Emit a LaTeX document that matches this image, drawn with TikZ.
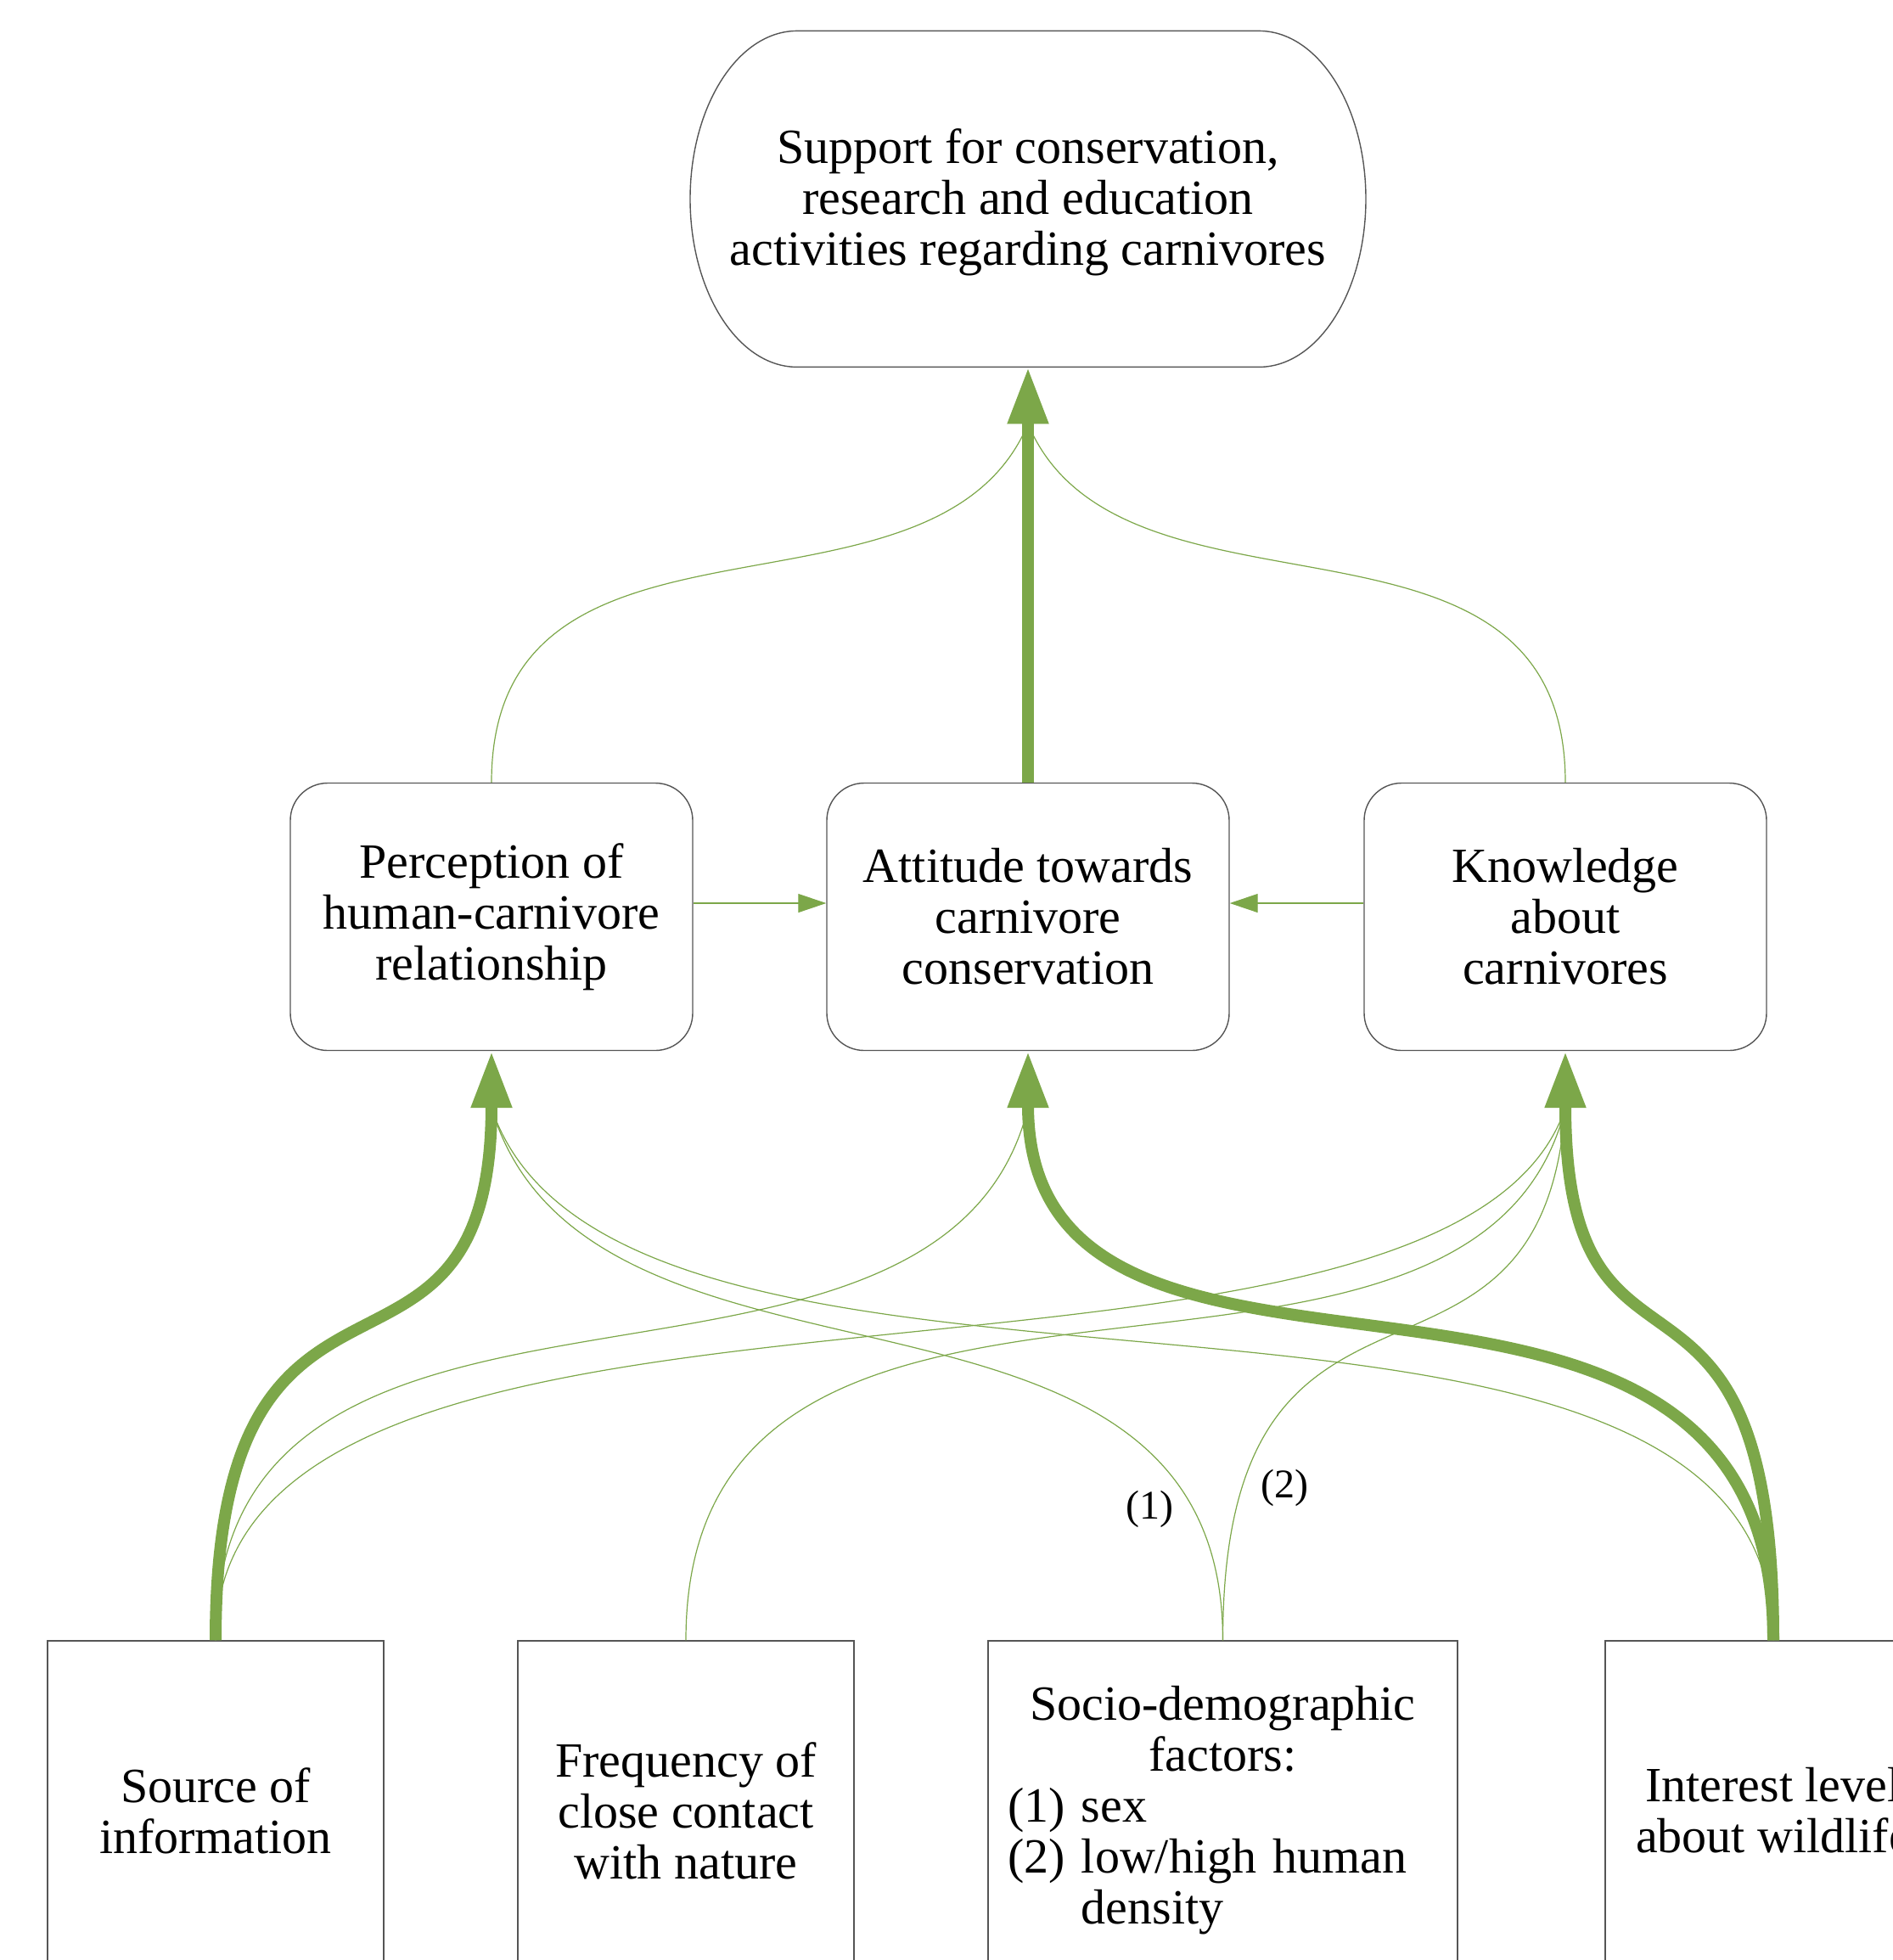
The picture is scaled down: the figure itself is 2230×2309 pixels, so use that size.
\documentclass[tikz,border=0pt]{standalone}
\usepackage{fontspec}
\setmainfont{Liberation Serif}
\usetikzlibrary{arrows.meta,calc}
\definecolor{grn}{RGB}{124,167,73}
\definecolor{boxgray}{RGB}{85,85,85}
\newcommand{\dgfont}{\fontsize{29}{30}\selectfont}
\newcommand{\lblfont}{\fontsize{24}{26}\selectfont}
\begin{document}
\begin{tikzpicture}[x=0.5pt,y=-0.5pt,
  boxline/.style={draw=boxgray, line width=0.7pt},
  supnode/.style={minimum width=398pt, minimum height=194pt, align=center, font=\dgfont, inner sep=0pt},
  midbox/.style={boxline, rounded corners=22pt, minimum width=237pt, minimum height=157.5pt, align=center, font=\dgfont, inner sep=0pt},
  botbox/.style={boxline, minimum width=198pt, minimum height=200pt, align=center, font=\dgfont, inner sep=0pt},
  bigarrow/.style={draw=grn, line width=7pt, -{Triangle[length=33.5pt,width=22.5pt]}},
  smallarrow/.style={draw=grn, line width=0.6pt, -{Triangle[length=16.5pt,width=11pt]}},
  thinlink/.style={draw=grn, line width=0.6pt},
  lbl/.style={font=\lblfont, inner sep=0pt}
]
\useasboundingbox (0,0) rectangle (2230,2309);
\begin{scope}
\clip (0,0) rectangle (2230,2309);

% top node (text node; its outline is drawn below)
\node[supnode] (sup) at (1211,238) {Support for conservation,\\research and education\\activities regarding carnivores};
\draw[boxline] ($(sup.south)+(-272,-396)$) -- ($(sup.south)+(272,-396)$)
  arc[start angle=90,end angle=-90,x radius=63pt,y radius=99pt]
  -- ($(sup.south)+(-272,0)$)
  arc[start angle=270,end angle=90,x radius=63pt,y radius=99pt] -- cycle;

% middle nodes
\node[midbox] (per) at (579,1080) {Perception of\\human-carnivore\\relationship};
\node[midbox] (att) at (1211,1080) {Attitude towards\\carnivore\\conservation};
\node[midbox] (kno) at (1844,1080) {Knowledge\\about\\carnivores};

% bottom nodes
\node[botbox] (src) at (254,2133) {Source of\\information};
\node[botbox] (frq) at (808,2133) {Frequency of\\close contact\\with nature};
\node[botbox, minimum width=276.5pt, text width=253.5pt, align=left] (soc) at (1440.5,2133)
  {{\centering Socio-demographic\\factors:\par}(1) sex\\(2) low/high human\\\hphantom{(2)}\ density};
\node[botbox] (int) at (2089,2133) {Interest level\\about wildlife};

% top connectors (thin ones end at the base of the big arrowhead)
\draw[thinlink] (per.north) .. controls ($(per.north)+(0,-362)$) and ($(sup.south)+(-110,328)$) .. ($(sup.south)+(0,67)$);
\draw[thinlink] (kno.north) .. controls ($(kno.north)+(0,-362)$) and ($(sup.south)+(110,328)$) .. ($(sup.south)+(0,67)$);
\draw[bigarrow] (att.north) -- (sup.south);

% horizontal connectors
\draw[smallarrow] ([yshift=8pt]per.east) -- ([yshift=8pt]att.west);
\draw[smallarrow] ([yshift=8pt]kno.west) -- ([yshift=8pt]att.east);

% bottom thin connectors
\draw[thinlink] (src.north) .. controls ($(src.north)+(0,-524)$) and ($(att.south)+(-105,487)$) .. ($(att.south)+(0,67)$);
\draw[thinlink] (src.north) .. controls ($(src.north)+(0,-522)$) and ($(kno.south)+(-140,478)$) .. ($(kno.south)+(0,67)$);
\draw[thinlink] (frq.north) .. controls ($(frq.north)+(0,-572)$) and ($(kno.south)+(-110,505)$) .. ($(kno.south)+(0,67)$);
\draw[thinlink] (soc.north) .. controls ($(soc.north)+(0,-484)$) and ($(per.south)+(115,452)$) .. ($(per.south)+(0,67)$);
\draw[thinlink] (soc.north) .. controls ($(soc.north)+(0,-509)$) and ($(kno.south)+(-30,463)$) .. ($(kno.south)+(0,67)$);
\draw[thinlink] (int.north) .. controls ($(int.north)+(0,-538)$) and ($(per.south)+(150,515)$) .. ($(per.south)+(0,67)$);

% bottom thick connectors
\draw[bigarrow] (src.north) .. controls ($(src.north)+(0,-524)$) and ($(per.south)+(0,457)$) .. (per.south);
\draw[bigarrow] (int.north) .. controls ($(int.north)+(0,-518)$) and ($(kno.south)+(0,446)$) .. (kno.south);
\draw[bigarrow] (int.north) .. controls ($(int.north)+(0,-577)$) and ($(att.south)+(0,505)$) .. (att.south);

% labels
\node[lbl] (l1) at (1354,1778) {(1)};
\node[lbl] (l2) at (1513,1753) {(2)};
\end{scope}
\end{tikzpicture}
\end{document}
